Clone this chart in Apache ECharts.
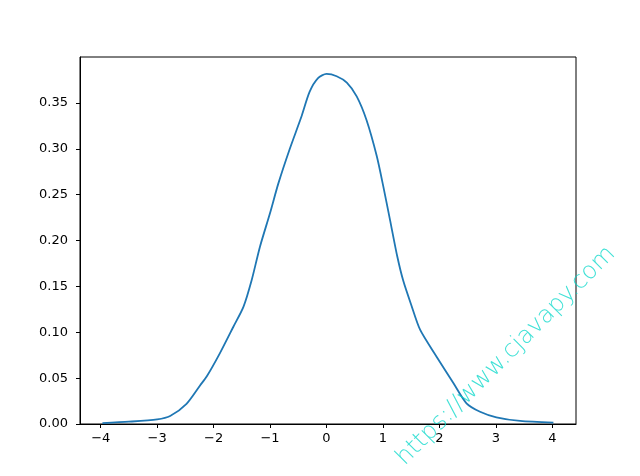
<!DOCTYPE html>
<html>
<head>
<meta charset="utf-8">
<script src="https://cdn.jsdelivr.net/npm/echarts@6/dist/echarts.min.js"></script>
<style>
  html, body { margin: 0; padding: 0; background: #fff; }
  #chart { width: 640px; height: 476px; }
</style>
</head>
<body>
<div id="chart"></div>
<script>
  // density curve
  const xs = [-3.97, -3.5, -3.0, -2.77, -2.48, -2.24, -2.12, -1.89, -1.65, -1.47, -1.325, -1.18, -1.0, -0.854,
              -0.65, -0.45, -0.3, -0.15, 0.0, 0.18, 0.36, 0.535, 0.71, 0.89, 1.006, 1.125, 1.254, 1.36, 1.5, 1.66,
              1.95, 2.25, 2.48, 2.72, 3.01, 3.43, 4.02];
  const density = [0.001, 0.0025, 0.005, 0.0087, 0.022, 0.042, 0.052, 0.077, 0.106, 0.128, 0.157, 0.193, 0.230, 0.262,
                   0.300, 0.334, 0.362, 0.377, 0.3815, 0.379, 0.372, 0.357, 0.331, 0.292, 0.259, 0.2225, 0.1825, 0.156, 0.130, 0.1025,
                   0.0734, 0.0444, 0.0226, 0.0134, 0.0073, 0.0033, 0.0014];
  const xTicks = [-4, -3, -2, -1, 0, 1, 2, 3, 4];
  const yTicks = [0, 0.05, 0.10, 0.15, 0.20, 0.25, 0.30, 0.35];

  const chart = echarts.init(document.getElementById('chart'));
  const font = 'DejaVu Sans';

  chart.setOption({
    animation: false,
    grid: {
      left: 80, right: 64, top: 57, bottom: 52,
      show: true, borderColor: '#000', borderWidth: 1
    },
    xAxis: {
      type: 'value',
      min: -4.367, max: 4.42,
      axisLine: { show: true, onZero: false, lineStyle: { color: '#000', width: 1 } },
      axisTick: { show: true, length: 4, customValues: xTicks, lineStyle: { color: '#000' } },
      axisLabel: {
        customValues: xTicks, color: '#000', fontFamily: font, fontSize: 13, margin: 8,
        formatter: v => (v < 0 ? '\u2212' + Math.abs(v) : String(v))
      },
      splitLine: { show: false }
    },
    yAxis: {
      type: 'value',
      min: 0, max: 0.4,
      axisLine: { show: true, onZero: false, lineStyle: { color: '#000', width: 1 } },
      axisTick: { show: true, length: 4, customValues: yTicks, lineStyle: { color: '#000' } },
      axisLabel: {
        customValues: yTicks, color: '#000', fontFamily: font, fontSize: 13, margin: 12,
        formatter: v => v.toFixed(2)
      },
      splitLine: { show: false }
    },
    series: [{
      type: 'line',
      data: xs.map((x, i) => [x, density[i]]),
      smooth: 0.25,
      showSymbol: false,
      lineStyle: { color: '#1f77b4', width: 1.8 }
    }],
    graphic: [{
      type: 'text',
      x: 506, y: 356,
      rotation: Math.PI / 4,
      style: {
        text: 'https://www.cjavapy.com',
        fill: 'rgba(0, 215, 200, 0.75)',
        font: '200 24px "DejaVu Sans"',
        align: 'center',
        verticalAlign: 'middle'
      },
      z: 100
    }]
  });
</script>
</body>
</html>
